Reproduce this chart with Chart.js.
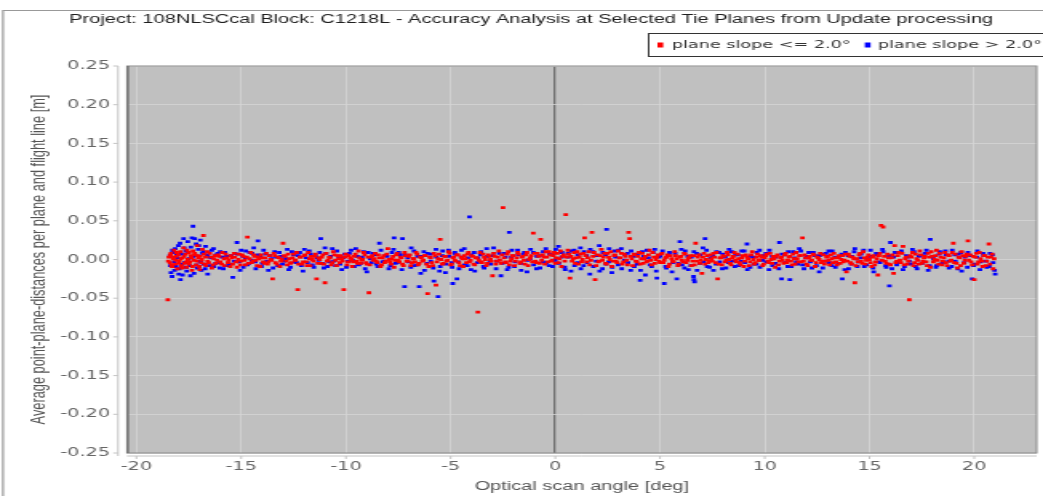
<!DOCTYPE html>
<html>
<head>
<meta charset="utf-8">
<script src="https://cdn.jsdelivr.net/npm/chart.js@4.4.1/dist/chart.umd.min.js"></script>
<style>
  html, body { margin: 0; padding: 0; background: #fff; overflow: hidden; }
  #chart { display: block; }
</style>
</head>
<body>
<canvas id="chart" width="652" height="496" style="width:1043px;height:496px"></canvas>
<script>
const chartTitle = "Project: 108NLSCcal Block: C1218L - Accuracy Analysis at Selected Tie Planes from Update processing";
const seriesNames = ["plane slope <= 2.0°", "plane slope > 2.0°"];
const xTicks = [-20, -15, -10, -5, 0, 5, 10, 15, 20];
const yTicks = [-0.25, -0.2, -0.15, -0.1, -0.05, 0, 0.05, 0.1, 0.15, 0.2, 0.25];

// [optical scan angle in deg, mean distance in mm]
const lowSlope = [
  [-18.5,-52],[-18.45,3],[-18.4,-4],[-18.35,8],[-18.3,-9],[-18.25,1],[-18.2,12],[-18.15,-6],[-18.1,4],[-18.05,-12],
  [-18.0,6],[-17.95,-2],[-17.9,10],[-17.85,-8],[-17.8,2],[-17.75,15],[-17.7,-5],[-17.65,7],[-17.6,-10],[-17.55,0],
  [-17.5,9],[-17.45,-3],[-17.4,5],[-17.35,-14],[-17.3,11],[-17.25,-1],[-17.2,6],[-17.15,-7],[-17.1,18],[-17.05,2],
  [-17.0,-9],[-16.95,4],[-16.9,-4],[-16.85,13],[-16.8,31],[-16.75,-6],[-16.7,3],[-16.6,-2],[-16.5,8],[-16.4,-11],
  [-16.3,1],[-16.2,-5],[-16.1,6],[-16.0,-3],[-15.9,9],[-15.8,-8],[-15.7,2],[-15.6,-1],[-15.5,5],[-15.4,-6],
  [-15.3,3],[-15.2,-10],[-15.1,7],[-15.0,-2],[-14.9,4],[-14.8,-7],[-14.7,29],[-14.6,1],[-14.5,-4],[-14.4,6],
  [-14.3,-1],[-14.2,3],[-14.1,-9],[-14.0,2],[-13.9,-5],[-13.8,8],[-13.7,-3],[-13.6,0],[-13.5,-25],[-13.4,5],
  [-13.3,-6],[-13.2,2],[-13.1,-2],[-13.0,21],[-12.9,4],[-12.8,-7],[-12.7,1],[-12.6,-4],[-12.5,7],[-12.4,-1],
  [-12.3,-39],[-12.2,3],[-12.1,-6],[-12.0,5],[-11.9,-3],[-11.8,9],[-11.7,-8],[-11.6,0],[-11.5,4],[-11.4,-25],
  [-11.3,2],[-11.2,-5],[-11.1,6],[-11.0,-30],[-10.9,-2],[-10.8,3],[-10.7,-7],[-10.6,10],[-10.5,-1],[-10.4,5],
  [-10.3,-4],[-10.2,1],[-10.1,-39],[-10.0,7],[-9.9,-3],[-9.8,2],[-9.7,-9],[-9.6,4],[-9.5,-2],[-9.4,11],
  [-9.3,-5],[-9.2,0],[-9.1,6],[-9.0,-6],[-8.9,-43],[-8.8,3],[-8.7,-1],[-8.6,8],[-8.5,-4],[-8.4,2],
  [-8.3,-7],[-8.2,5],[-8.1,-2],[-8.0,14],[-7.9,-3],[-7.8,1],[-7.7,-10],[-7.6,6],[-7.5,-1],[-7.4,3],
  [-7.3,-6],[-7.2,9],[-7.1,-2],[-7.0,4],[-6.9,-8],[-6.8,1],[-6.7,-3],[-6.6,7],[-6.5,-5],[-6.4,2],
  [-6.3,-1],[-6.2,5],[-6.1,-44],[-6.05,-9],[-6.0,3],[-5.9,-4],[-5.8,8],[-5.7,-33],[-5.6,1],[-5.5,26],
  [-5.4,-6],[-5.3,4],[-5.2,-2],[-5.1,10],[-5.0,-7],[-4.9,2],[-4.8,-1],[-4.7,6],[-4.6,-4],[-4.5,3],
  [-4.4,-9],[-4.3,1],[-4.2,7],[-4.1,-3],[-4.0,5],[-3.9,-6],[-3.8,2],[-3.7,-68],[-3.65,-1],[-3.6,9],
  [-3.5,-4],[-3.4,3],[-3.3,-8],[-3.2,6],[-3.1,0],[-3.0,-21],[-2.9,4],[-2.8,-2],[-2.7,11],[-2.6,-5],
  [-2.5,67],[-2.45,2],[-2.4,-3],[-2.3,7],[-2.2,-7],[-2.1,1],[-2.0,5],[-1.9,-2],[-1.8,9],[-1.7,-5],
  [-1.6,3],[-1.5,-1],[-1.4,6],[-1.3,-8],[-1.2,2],[-1.1,-3],[-1.05,34],[-1.0,8],[-0.9,-4],[-0.8,4],
  [-0.7,26],[-0.65,-1],[-0.6,6],[-0.5,-6],[-0.4,3],[-0.3,10],[-0.2,-2],[-0.1,5],[0.0,-5],[0.1,8],
  [0.2,1],[0.3,-9],[0.4,6],[0.5,58],[0.55,3],[0.6,12],[0.7,-24],[0.75,4],[0.8,-2],[0.9,9],
  [1.0,2],[1.1,-6],[1.2,7],[1.3,0],[1.4,28],[1.45,5],[1.5,-3],[1.6,10],[1.7,-1],[1.75,35],
  [1.8,4],[1.9,-26],[1.95,-8],[2.0,6],[2.1,-2],[2.2,13],[2.3,3],[2.4,-5],[2.5,8],[2.6,0],
  [2.7,-9],[2.8,5],[2.9,-2],[3.0,11],[3.1,2],[3.2,-6],[3.3,7],[3.4,-1],[3.5,35],[3.55,27],
  [3.6,4],[3.7,-8],[3.8,6],[3.9,-3],[4.0,9],[4.1,1],[4.2,-5],[4.3,4],[4.4,-2],[4.5,12],
  [4.6,-7],[4.7,3],[4.8,0],[4.9,6],[5.0,-4],[5.1,8],[5.2,-1],[5.3,3],[5.4,-9],[5.5,5],
  [5.6,-2],[5.7,10],[5.8,1],[5.9,-6],[6.0,4],[6.1,-3],[6.2,7],[6.3,-1],[6.4,2],[6.5,-8],
  [6.6,5],[6.7,21],[6.75,-2],[6.8,3],[6.9,-5],[7.0,-18],[7.1,8],[7.2,0],[7.3,-4],[7.4,6],
  [7.5,-2],[7.6,3],[7.75,-25],[7.7,9],[7.8,-6],[7.9,2],[8.0,5],[8.1,-3],[8.2,9],[8.3,0],
  [8.4,-7],[8.5,4],[8.6,-1],[8.7,7],[8.8,-4],[8.9,2],[9.0,-9],[9.1,6],[9.2,1],[9.3,-3],
  [9.4,10],[9.5,-6],[9.6,3],[9.7,-1],[9.8,5],[9.9,-8],[10.0,2],[10.1,7],[10.2,-4],[10.3,0],
  [10.4,4],[10.5,-10],[10.6,6],[10.7,-2],[10.8,3],[10.9,-5],[11.0,8],[11.1,-1],[11.2,4],[11.3,-7],
  [11.4,1],[11.5,9],[11.6,-3],[11.7,5],[11.8,28],[11.85,-2],[11.9,6],[12.0,-6],[12.1,2],[12.2,-1],
  [12.3,7],[12.4,-9],[12.5,3],[12.6,0],[12.7,-4],[12.8,6],[12.9,-2],[13.0,4],[13.1,-7],[13.2,1],
  [13.3,8],[13.4,-3],[13.5,2],[13.6,-5],[13.7,5],[13.8,-1],[13.9,-16],[14.0,7],[14.1,-4],[14.2,3],
  [14.3,-30],[14.35,-8],[14.4,1],[14.5,6],[14.6,-2],[14.7,10],[14.8,-6],[14.9,3],[15.0,0],[15.1,-9],
  [15.2,5],[15.3,-3],[15.4,-20],[15.5,8],[15.55,44],[15.65,42],[15.6,-1],[15.7,4],[15.8,-5],[15.9,2],
  [16.0,-7],[16.1,6],[16.15,-18],[16.2,18],[16.3,-2],[16.4,9],[16.5,-4],[16.6,17],[16.7,1],[16.8,-6],
  [16.9,-52],[16.95,5],[17.0,3],[17.1,-8],[17.2,7],[17.3,-1],[17.4,11],[17.5,-5],[17.6,2],[17.7,-3],
  [17.8,8],[17.9,-10],[18.0,4],[18.1,0],[18.2,12],[18.3,-6],[18.4,3],[18.5,-2],[18.6,9],[18.7,-8],
  [18.8,5],[18.9,-1],[19.0,21],[19.05,-4],[19.1,7],[19.2,-11],[19.3,2],[19.4,10],[19.5,-5],[19.6,4],
  [19.7,24],[19.75,-1],[19.8,6],[19.9,-7],[20.0,-26],[20.05,3],[20.1,8],[20.2,-3],[20.3,1],[20.4,-9],
  [20.5,5],[20.6,-2],[20.7,20],[20.75,-6],[20.8,3],[20.85,7],[20.9,-12],
  [-18.48,-2],[-18.38,6],[-18.33,-7],[-18.22,3],[-18.12,-1],[-18.08,9],[-17.98,-5],[-17.88,1],[-17.82,-11],[-17.72,4],
  [-17.62,-3],[-17.58,12],[-17.48,-6],[-17.38,2],[-17.32,-9],[-17.22,8],[-17.12,-2],[-17.08,5],[-16.98,-13],[-16.88,0],
  [-16.78,7],[-16.68,-8],[-16.62,10],[-16.55,-4],[-16.45,3],[-16.35,-7],[-16.25,5],[-16.15,-1],[-16.05,4],[-15.93,-6],
  [-15.82,1],[-15.74,7],[-15.63,-4],[-15.52,-9],[-15.45,2],[-15.33,8],[-15.24,-3],[-15.13,0],[-15.04,-7],[-14.95,6],
  [-14.84,-1],[-14.73,3],[-14.66,-5],[-14.54,9],[-14.43,-2],[-14.36,4],[-14.24,-8],[-14.15,1],[-14.06,6],[-13.95,-3],
  [-13.86,2],[-13.74,-6],[-13.65,5],[-13.55,-1],[-13.44,8],[-13.36,-4],[-13.24,3],[-13.15,-9],[-13.06,0],[-12.95,5],
  [-12.84,-2],[-12.76,7],[-12.65,-5],[-12.55,2],[-12.44,-1],[-12.35,9],[-12.26,-6],[-12.15,3],[-12.04,-3],[-11.95,6],
  [-11.86,-8],[-11.74,1],[-11.66,4],[-11.55,-2],[-11.45,7],[-11.34,-5],[-11.25,0],[-11.15,3],[-11.05,-6],[-10.94,8],
  [-10.85,-1],[-10.76,2],[-10.65,-4],[-10.55,6],[-10.44,-8],[-10.35,1],[-10.25,5],[-10.16,-2],[-10.05,3],[-9.95,-7],
  [-9.86,5],[-9.74,0],[-9.66,-3],[-9.55,7],[-9.45,-5],[-9.35,2],[-9.26,-1],[-9.15,9],[-9.05,-4],[-8.95,3],
  [-8.86,-7],[-8.75,5],[-8.64,1],[-8.55,-2],[-8.46,6],[-8.35,-9],[-8.25,2],[-8.15,-4],[-8.05,7],[-7.95,0],
  [-7.84,-6],[-7.75,4],[-7.66,-1],[-7.55,8],[-7.45,-3],[-7.35,2],[-7.25,-8],[-7.15,5],[-7.05,-2],[-6.95,6],
  [-6.85,-4],[-6.75,1],[-6.65,9],[-6.55,-7],[-6.45,3],[-6.35,-2],[-6.25,5],[-6.15,-6],[-5.95,2],[-5.85,-8],
  [-5.75,5],[-5.65,-3],[-5.55,7],[-5.45,0],[-5.35,-5],[-5.25,4],[-5.15,-1],[-5.05,8],[-4.95,-6],[-4.85,3],
  [-4.75,-2],[-4.65,6],[-4.55,-8],[-4.45,1],[-4.35,5],[-4.25,-4],[-4.15,9],[-4.05,-1],[-3.95,4],[-3.85,-7],
  [-3.75,2],[-3.55,-3],[-3.45,7],[-3.35,0],[-3.25,-5],[-3.15,4],[-3.05,-2],[-2.95,8],[-2.85,-6],[-2.75,3],
  [-2.65,-1],[-2.55,6],[-2.35,-4],[-2.25,10],[-2.15,-2],[-2.05,5],[-1.95,-8],[-1.85,2],[-1.75,7],[-1.65,-3],
  [-1.55,4],[-1.45,-6],[-1.35,9],[-1.25,0],[-1.15,5],[-0.95,-2],[-0.85,8],[-0.75,-5],[-0.55,3],[-0.45,10],
  [-0.35,-3],[-0.25,6],[-0.15,-1],[-0.05,9],[0.05,2],[0.15,-4],[0.25,11],[0.35,4],[0.45,-2],[0.65,7],
  [0.85,1],[0.95,-5],[1.05,10],[1.15,3],[1.25,-3],[1.35,8],[1.55,2],[1.65,-7],[1.85,9],[2.05,-3],
  [2.15,5],[2.25,-1],[2.35,8],[2.45,-6],[2.55,3],[2.65,10],[2.75,-2],[2.85,6],[2.95,-4],[3.05,2],
  [3.15,8],[3.25,-3],[3.35,4],[3.45,-7],[3.65,1],[3.75,7],[3.85,-2],[3.95,4],[4.05,-6],[4.15,8],
  [4.25,1],[4.35,-3],[4.45,6],[4.55,-1],[4.65,9],[4.75,-5],[4.85,3],[4.95,-2],[5.05,7],[5.15,-4],
  [5.25,2],[5.35,6],[5.45,-6],[5.55,1],[5.65,-3],[5.75,5],[5.85,-8],[5.95,3],[6.05,-1],[6.15,8],
  [6.25,-4],[6.35,2],[6.45,5],[6.55,-2],[6.65,-7],[6.85,6],[6.95,-1],[7.05,3],[7.15,-6],[7.25,5],
  [7.35,-2],[7.45,1],[7.55,8],[7.65,-4],[7.85,2],[7.95,-7],[8.05,4],[8.15,-1],[8.25,6],[8.35,-5],
  [8.45,2],[8.55,9],[8.65,-3],[8.75,1],[8.85,-7],[8.95,5],[9.05,-2],[9.15,3],[9.25,-8],[9.35,6],
  [9.45,0],[9.55,-4],[9.65,7],[9.75,-1],[9.85,3],[9.95,-6],[10.05,5],[10.15,-2],[10.25,8],[10.35,-5],
  [10.45,1],[10.55,4],[10.65,-7],[10.75,2],[10.85,-1],[10.95,6],[11.05,-4],[11.15,3],[11.25,-2],[11.35,7],
  [11.45,-6],[11.55,1],[11.65,5],[11.75,-3],[11.95,2],[12.05,-8],[12.15,4],[12.25,-1],[12.35,6],[12.45,-4],
  [12.55,2],[12.65,8],[12.75,-2],[12.85,-6],[12.95,3],[13.05,-1],[13.15,6],[13.25,-4],[13.35,2],[13.45,-7],
  [13.55,5],[13.65,0],[13.75,-3],[13.85,7],[13.95,-2],[14.05,4],[14.15,-6],[14.25,1],[14.45,-3],[14.55,8],
  [14.65,-5],[14.75,2],[14.85,-1],[14.95,6],[15.05,-4],[15.15,3],[15.25,-7],[15.35,1],[15.45,5],[15.75,-2],
  [15.85,7],[15.95,-6],[16.05,2],[16.25,-4],[16.35,5],[16.45,-1],[16.55,8],[16.65,-7],[16.75,3],[16.85,-2],
  [17.05,9],[17.15,-4],[17.25,1],[17.35,-6],[17.45,6],[17.55,-2],[17.65,4],[17.75,-8],[17.85,3],[17.95,10],
  [18.05,-3],[18.15,5],[18.25,-1],[18.35,8],[18.45,-7],[18.55,2],[18.65,-4],[18.75,6],[18.85,-2],[18.95,9],
  [19.15,-5],[19.25,3],[19.35,-8],[19.45,5],[19.55,-1],[19.65,7],[19.85,-3],[19.95,4],[20.15,-6],[20.25,9],
  [20.35,-2],[20.45,5],[20.55,-8],[20.65,3],[20.95,1]
];

const steepSlope = [
  [-18.4,5],[-18.35,-17],[-18.3,-22],[-18.25,9],[-18.2,-3],[-18.15,14],[-18.1,-9],[-18.05,2],[-18.0,18],[-17.95,-12],
  [-17.9,-26],[-17.85,7],[-17.8,-20],[-17.75,27],[-17.7,-4],[-17.65,11],[-17.6,-15],[-17.55,23],[-17.5,1],[-17.45,-8],
  [-17.4,16],[-17.35,28],[-17.3,43],[-17.25,-18],[-17.2,5],[-17.15,20],[-17.1,-11],[-17.05,13],[-17.0,-2],[-16.95,25],
  [-16.9,-14],[-16.85,8],[-16.8,-6],[-16.7,17],[-16.6,-19],[-16.5,3],[-16.4,12],[-16.3,-9],[-16.2,6],[-16.1,-4],
  [-16.0,10],[-15.85,-12],[-15.7,4],[-15.55,-6],[-15.4,-23],[-15.3,8],[-15.2,22],[-15.1,-3],[-15.0,12],[-14.9,-10],
  [-14.8,2],[-14.7,-7],[-14.6,9],[-14.5,-1],[-14.4,15],[-14.3,-12],[-14.2,24],[-14.1,3],[-14.0,-5],[-13.85,7],
  [-13.7,-14],[-13.55,1],[-13.4,10],[-13.25,-8],[-13.1,4],[-12.95,-2],[-12.8,13],[-12.65,-10],[-12.5,6],[-12.35,-4],
  [-12.2,9],[-12.05,-15],[-11.9,2],[-11.75,11],[-11.6,-7],[-11.45,5],[-11.3,-1],[-11.2,27],[-11.05,-11],[-10.95,8],
  [-10.8,-3],[-10.65,14],[-10.5,-8],[-10.35,3],[-10.2,-13],[-10.05,7],[-9.9,-2],[-9.75,12],[-9.6,-9],[-9.45,4],
  [-9.3,-5],[-9.15,10],[-9.0,-16],[-8.85,1],[-8.7,8],[-8.55,-6],[-8.4,21],[-8.25,-3],[-8.1,5],[-7.95,-12],
  [-7.8,9],[-7.7,28],[-7.55,-4],[-7.4,6],[-7.3,27],[-7.2,-35],[-7.05,2],[-6.9,-10],[-6.75,11],[-6.6,-7],
  [-6.5,-35],[-6.4,4],[-6.25,-14],[-6.1,8],[-5.95,-2],[-5.8,-28],[-5.7,13],[-5.6,-48],[-5.5,-9],[-5.4,5],
  [-5.25,-17],[-5.1,12],[-4.95,-4],[-4.9,-31],[-4.8,9],[-4.7,-25],[-4.6,-12],[-4.5,3],[-4.35,14],[-4.2,-8],
  [-4.1,55],[-4.0,6],[-3.85,-15],[-3.7,2],[-3.55,10],[-3.4,-11],[-3.25,4],[-3.1,-6],[-2.95,15],[-2.8,-2],
  [-2.6,-21],[-2.45,8],[-2.3,-13],[-2.2,35],[-2.1,3],[-1.95,-9],[-1.8,12],[-1.65,-5],[-1.5,7],[-1.35,-16],
  [-1.2,1],[-1.05,9],[-0.9,-12],[-0.75,5],[-0.6,-3],[-0.45,14],[-0.3,-8],[-0.15,6],[0.0,-1],[0.15,17],
  [0.3,3],[0.45,-10],[0.6,8],[0.75,-15],[0.9,12],[1.05,-4],[1.2,15],[1.35,-8],[1.5,5],[1.65,-19],
  [1.8,10],[1.95,-2],[2.1,18],[2.25,-12],[2.4,6],[2.45,39],[2.55,-3],[2.7,-17],[2.85,11],[3.0,-7],
  [3.15,14],[3.3,-1],[3.45,8],[3.6,-14],[3.75,4],[3.9,-6],[4.05,-27],[4.15,10],[4.3,-20],[4.45,2],
  [4.6,-9],[4.75,13],[4.85,-24],[5.0,5],[5.2,-31],[5.3,-11],[5.45,9],[5.6,-4],[5.8,-25],[5.95,23],
  [6.05,-7],[6.2,11],[6.35,-13],[6.5,3],[6.6,-22],[6.62,-26],[6.65,-29],[6.75,8],[6.9,-5],[7.05,15],
  [7.15,27],[7.25,-9],[7.4,2],[7.55,-14],[7.7,10],[7.85,-3],[8.0,7],[8.15,-11],[8.3,13],[8.45,-2],
  [8.6,6],[8.75,-8],[8.9,11],[9.05,-4],[9.15,20],[9.3,-10],[9.45,3],[9.6,-6],[9.75,12],[9.9,-1],
  [10.05,8],[10.2,-13],[10.35,4],[10.5,-5],[10.7,22],[10.8,-25],[10.95,6],[11.1,-9],[11.2,-26],[11.35,10],
  [11.5,-3],[11.65,14],[11.8,-7],[11.95,2],[12.1,9],[12.25,-11],[12.4,5],[12.6,-16],[12.75,7],[12.9,-2],
  [13.05,11],[13.2,-8],[13.35,3],[13.5,-5],[13.7,-25],[13.85,9],[14.0,-12],[14.15,4],[14.3,14],[14.45,-3],
  [14.6,7],[14.75,-9],[14.9,1],[15.05,12],[15.2,-16],[15.35,6],[15.5,-4],[15.65,10],[15.8,-10],[15.95,-34],
  [16.0,22],[16.15,3],[16.3,-7],[16.45,9],[16.6,-13],[16.75,5],[16.9,-2],[17.05,13],[17.2,-9],[17.35,4],
  [17.5,-5],[17.65,8],[17.8,-14],[17.9,26],[18.05,1],[18.2,-8],[18.35,10],[18.5,-3],[18.65,6],[18.8,-11],
  [18.95,12],[19.1,-2],[19.25,7],[19.4,-15],[19.55,3],[19.7,9],[19.9,-25],[20.0,-6],[20.15,11],[20.3,-3],
  [20.45,5],[20.6,-10],[20.75,8],[20.9,-4],[21.0,-19],
  [-18.38,-8],[-18.28,12],[-18.18,-14],[-18.08,6],[-17.98,-19],[-17.92,21],[-17.82,-6],[-17.72,15],[-17.62,-10],[-17.52,9],
  [-17.42,-21],[-17.32,3],[-17.22,27],[-17.12,-7],[-17.02,18],[-16.92,-3],[-16.82,10],[-16.72,-12],[-16.62,6],[-16.52,-8],
  [-16.42,2],[-16.32,14],[-16.22,-5],[-16.12,8],[-16.02,-11],[-15.92,3],[-15.78,9],[-15.63,-8],[-15.48,5],[-15.33,-2],
  [-15.18,7],[-15.05,-14],[-14.93,4],[-14.78,11],[-14.63,-5],[-14.48,8],[-14.33,-3],[-14.18,6],[-14.03,-9],[-13.93,12],
  [-13.78,-2],[-13.63,5],[-13.48,-11],[-13.33,3],[-13.18,9],[-13.03,-6],[-12.88,1],[-12.73,-13],[-12.58,10],[-12.43,-3],
  [-12.28,5],[-12.13,-8],[-11.98,13],[-11.83,-4],[-11.68,7],[-11.53,-10],[-11.38,2],[-11.25,9],[-11.13,-5],[-11.0,15],
  [-10.88,-9],[-10.73,4],[-10.58,-2],[-10.43,11],[-10.28,-6],[-10.13,2],[-9.98,-10],[-9.83,8],[-9.68,-1],[-9.53,14],
  [-9.38,-7],[-9.23,3],[-9.08,-12],[-8.93,9],[-8.78,-4],[-8.63,6],[-8.48,-9],[-8.33,12],[-8.18,-2],[-8.03,4],
  [-7.88,-8],[-7.73,13],[-7.63,-5],[-7.48,9],[-7.33,-13],[-7.18,6],[-7.03,-3],[-6.88,15],[-6.73,-8],[-6.58,4],
  [-6.43,-18],[-6.28,10],[-6.13,-5],[-5.98,7],[-5.83,-11],[-5.68,3],[-5.53,-15],[-5.38,11],[-5.23,-6],[-5.08,4],
  [-4.93,-10],[-4.78,7],[-4.63,-3],[-4.48,12],[-4.33,-7],[-4.18,2],[-4.03,-13],[-3.88,9],[-3.73,-4],[-3.58,6],
  [-3.43,-9],[-3.28,14],[-3.13,-2],[-2.98,5],[-2.83,-12],[-2.68,8],[-2.53,-5],[-2.38,3],[-2.23,-10],[-2.08,12],
  [-1.93,-3],[-1.78,6],[-1.63,-14],[-1.48,9],[-1.33,-1],[-1.18,13],[-1.03,-7],[-0.88,4],[-0.73,-11],[-0.58,10],
  [-0.43,-4],[-0.28,7],[-0.13,-9],[0.02,13],[0.17,-5],[0.32,9],[0.47,-13],[0.62,3],[0.77,11],[0.92,-8],
  [1.07,6],[1.22,-12],[1.37,10],[1.52,-4],[1.67,13],[1.82,-9],[1.97,5],[2.12,-15],[2.27,9],[2.42,-6],
  [2.57,14],[2.72,-10],[2.87,3],[3.02,12],[3.17,-12],[3.32,6],[3.47,-4],[3.62,11],[3.77,-9],[3.92,7],
  [4.07,-14],[4.22,4],[4.37,12],[4.52,-7],[4.67,9],[4.82,-15],[4.97,3],[5.12,11],[5.27,-9],[5.42,5],
  [5.57,-16],[5.72,8],[5.87,-5],[6.02,13],[6.17,-11],[6.32,4],[6.47,-8],[6.62,10],[6.77,-14],[6.92,6],
  [7.07,-3],[7.22,12],[7.37,-10],[7.52,5],[7.67,-6],[7.82,9],[7.97,-12],[8.12,3],[8.27,-4],[8.42,10],
  [8.57,-9],[8.72,6],[8.87,-2],[9.02,11],[9.17,-13],[9.32,4],[9.47,-6],[9.62,9],[9.77,-10],[9.92,5],
  [10.07,-3],[10.22,12],[10.37,-8],[10.52,3],[10.67,-12],[10.82,7],[10.97,-4],[11.12,10],[11.27,-9],[11.42,2],
  [11.57,-6],[11.72,11],[11.87,-12],[12.02,4],[12.17,-3],[12.32,9],[12.47,-8],[12.62,5],[12.77,-11],[12.92,8],
  [13.07,-4],[13.22,11],[13.37,-10],[13.52,3],[13.67,7],[13.82,-13],[13.97,5],[14.12,-6],[14.27,10],[14.42,-9],
  [14.57,2],[14.72,12],[14.87,-7],[15.02,4],[15.17,-11],[15.32,8],[15.47,-3],[15.62,13],[15.77,-8],[15.92,5],
  [16.07,-12],[16.22,9],[16.37,-4],[16.52,11],[16.67,-9],[16.82,3],[16.97,-6],[17.12,10],[17.27,-12],[17.42,5],
  [17.57,-3],[17.72,12],[17.87,-8],[18.02,4],[18.17,-10],[18.32,7],[18.47,-5],[18.62,11],[18.77,-2],[18.92,-9],
  [19.07,6],[19.22,-12],[19.37,9],[19.52,-4],[19.67,-10],[19.82,5],[19.97,-8],[20.12,3],[20.27,-13],[20.42,8],
  [20.57,-2],[20.72,-9],[20.87,6],[20.97,-14]
];

const toXY = pts => pts.map(p => ({ x: p[0], y: p[1] / 1000 }));

const tickFont = { family: "DejaVu Sans", size: 12 };
const labelFont = { family: "Liberation Sans", size: 12.8 };

// background, plot frame, axis lines, title and legend box
const frame = {
  id: "frame",
  beforeDraw(chart) {
    const { ctx, chartArea: a } = chart;
    ctx.save();
    ctx.fillStyle = "#fff";
    ctx.fillRect(0, 0, chart.width, chart.height);
    ctx.fillStyle = "#c0c0c0";
    ctx.fillRect(a.left, a.top, a.right - a.left, a.bottom - a.top);
    ctx.restore();
  },
  afterDraw(chart) {
    const { ctx, chartArea: a, scales } = chart;
    ctx.save();

    // plot outline
    ctx.strokeStyle = "#8a8a8a";
    ctx.lineWidth = 1;
    ctx.strokeRect(a.left, a.top, a.right - a.left, a.bottom - a.top);
    ctx.strokeStyle = "#6e6e6e";
    ctx.lineWidth = 1.3;
    ctx.beginPath();
    ctx.moveTo(a.left + 0.6, a.top);
    ctx.lineTo(a.left + 0.6, a.bottom);
    ctx.stroke();

    // axis lines with tick marks, set a little off the plot
    ctx.strokeStyle = "#c4c4c4";
    ctx.lineWidth = 1;
    const ax = a.left - 5.6;
    ctx.beginPath();
    ctx.moveTo(ax, a.top);
    ctx.lineTo(ax, a.bottom + 3);
    yTicks.forEach(v => {
      const py = scales.y.getPixelForValue(v);
      ctx.moveTo(ax - 3, py);
      ctx.lineTo(ax, py);
    });
    const ay = a.bottom + 3;
    ctx.moveTo(a.left, ay);
    ctx.lineTo(a.right, ay);
    xTicks.forEach(v => {
      const px = scales.x.getPixelForValue(v);
      ctx.moveTo(px, ay);
      ctx.lineTo(px, ay + 3);
    });
    ctx.stroke();

    // outer panel border
    ctx.strokeStyle = "#999";
    ctx.lineWidth = 1.2;
    ctx.beginPath();
    ctx.moveTo(1.9, chart.height);
    ctx.lineTo(1.9, 10.5);
    ctx.lineTo(chart.width, 10.5);
    ctx.stroke();

    // title
    ctx.fillStyle = "#1e1e1e";
    ctx.font = "12.5px 'Liberation Sans'";
    ctx.textAlign = "center";
    ctx.textBaseline = "middle";
    ctx.fillText(chartTitle, 332, 20);

    // legend
    ctx.strokeStyle = "#333";
    ctx.lineWidth = 1;
    ctx.strokeRect(405.5, 33.5, 300, 23);
    ctx.font = "11px 'DejaVu Sans'";
    ctx.textAlign = "left";
    ctx.fillStyle = "#ff0000";
    ctx.fillRect(411, 42.5, 3.6, 5);
    ctx.fillStyle = "#333";
    ctx.fillText(seriesNames[0], 420, 45.5);
    ctx.fillStyle = "#0000ff";
    ctx.fillRect(540.6, 42.5, 3.6, 5);
    ctx.fillStyle = "#333";
    ctx.fillText(seriesNames[1], 548.7, 45.5);

    ctx.restore();
  }
};

new Chart(document.getElementById("chart"), {
  type: "scatter",
  data: {
    datasets: [
      {
        label: seriesNames[0],
        data: toXY(lowSlope),
        pointStyle: "rect",
        pointRadius: 2,
        pointBorderWidth: 0,
        pointBackgroundColor: "#ff0000"
      },
      {
        label: seriesNames[1],
        data: toXY(steepSlope),
        pointStyle: "rect",
        pointRadius: 2,
        pointBorderWidth: 0,
        pointBackgroundColor: "#0000ff"
      }
    ]
  },
  options: {
    responsive: false,
    animation: false,
    devicePixelRatio: 1,
    layout: { padding: { top: 66, right: 3.9, left: 0, bottom: 0 } },
    plugins: {
      legend: { display: false },
      tooltip: { enabled: false }
    },
    scales: {
      x: {
        type: "linear",
        min: -20.45,
        max: 22.98,
        afterBuildTicks: s => { s.ticks = xTicks.map(v => ({ value: v })); },
        afterFit: s => { s.height = 43; },
        ticks: {
          autoSkip: false,
          maxRotation: 0,
          padding: 7,
          color: "#666",
          font: tickFont,
          callback: v => String(v)
        },
        grid: {
          drawTicks: false,
          color: c => (c.tick && c.tick.value === 0 ? "#6e6e6e" : "#d6d6d6"),
          lineWidth: c => (c.tick && c.tick.value === 0 ? 1.3 : 0.8)
        },
        border: { display: false },
        title: {
          display: true,
          text: "Optical scan angle [deg]",
          color: "#555",
          font: { family: "Liberation Sans", size: 12.5 },
          padding: { top: 0, bottom: 2 }
        }
      },
      y: {
        type: "linear",
        min: -0.25,
        max: 0.25,
        afterBuildTicks: s => { s.ticks = yTicks.map(v => ({ value: v })); },
        afterFit: s => { s.width = 79.4; },
        ticks: {
          autoSkip: false,
          padding: 10.6,
          color: "#666",
          font: tickFont,
          callback: v => v.toFixed(2)
        },
        grid: {
          drawTicks: false,
          color: "#d6d6d6",
          lineWidth: 0.8
        },
        border: { display: false },
        title: {
          display: true,
          text: "Average point-plane-distances per plane and flight line [m]",
          color: "#555",
          font: labelFont,
          padding: { top: 17, bottom: 0 }
        }
      }
    }
  },
  plugins: [frame]
});
</script>
</body>
</html>
